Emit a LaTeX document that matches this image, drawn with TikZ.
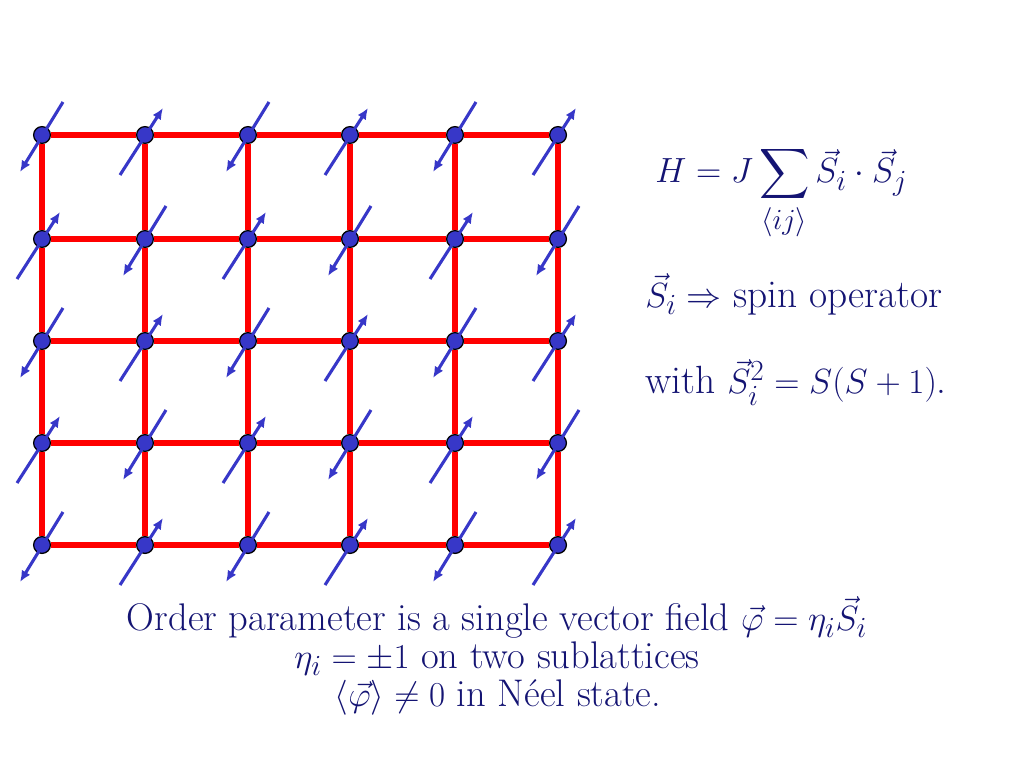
\documentclass[tikz,border=0pt]{standalone}
\usepackage{amsmath}
\usetikzlibrary{arrows.meta}
\definecolor{navy}{RGB}{20,20,115}
\definecolor{spinblue}{RGB}{55,55,200}
\tikzset{>={Latex[length=8pt,width=7pt]}}
\tikzset{
    bond/.style = {draw=red, line width=4.8pt},
    site/.style = {circle, draw=black, fill=spinblue, line width=0.9pt,
                        inner sep=0pt, minimum size=0.42cm},
    spin/.style = {->, draw=spinblue, line width=2.2pt},
    eqtext/.style = {text=navy, font=\fontsize{28}{33}\selectfont, anchor=base west, inner sep=0pt},
    bottomtext/.style = {text=navy, font=\fontsize{27.4}{32}\selectfont, anchor=base, inner sep=0pt}
}

\begin{document}
\begin{tikzpicture}[x=0.025cm, y=-0.025cm]
    \useasboundingbox (0,0) rectangle (1024,768);
    % lattice sites
    \foreach \x [count=\i from 0] in {42,145,248,350,455,558}
        \foreach \y [count=\j from 0] in {135,239,341,443,545}
            \node (s-\i-\j) [site] at (\x,\y) {};
    % red bonds
    \foreach \i [count=\ii from 1] in {0,...,4}
        \foreach \j in {0,...,4}
            \draw [bond] (s-\i-\j) -- (s-\ii-\j);
    \foreach \i in {0,...,5}
        \foreach \j [count=\jj from 1] in {0,...,3}
            \draw [bond] (s-\i-\j) -- (s-\i-\jj);
    % spins: up on one sublattice, down on the other
    \foreach \i in {0,...,5}
        \foreach \j in {0,...,4} {
            \pgfmathtruncatemacro{\sub}{mod(\i+\j,2)}
            \ifnum\sub=1
                \draw [spin] ([shift={(-25,40)}]s-\i-\j.center) -- ([shift={(18,-27)}]s-\i-\j.center);
            \else
                \draw [spin] ([shift={(21,-33)}]s-\i-\j.center) -- ([shift={(-22,37)}]s-\i-\j.center);
            \fi
        }
    % Hamiltonian and definitions
    \node (ham) [eqtext] at (655,183) {$H = J\displaystyle\sum_{\langle ij\rangle}\vec{S}_i\cdot\vec{S}_j$};
    \node (op) [eqtext] at (645,307) {$\vec{S}_i \Rightarrow$ spin operator};
    \node (norm) [eqtext] at (645,393) {with $\vec{S}_i^2 = S(S+1)$.};
    % order parameter
    \node (order) [bottomtext] at (497,630) {Order parameter is a single vector field $\vec{\varphi} = \eta_i\vec{S}_i$};
    \node (eta) [bottomtext] at (497,668) {$\eta_i = \pm 1$ on two sublattices};
    \node (neel) [bottomtext] at (498,706) {$\langle\vec{\varphi}\rangle \neq 0$ in N\'eel state.};
\end{tikzpicture}
\end{document}
